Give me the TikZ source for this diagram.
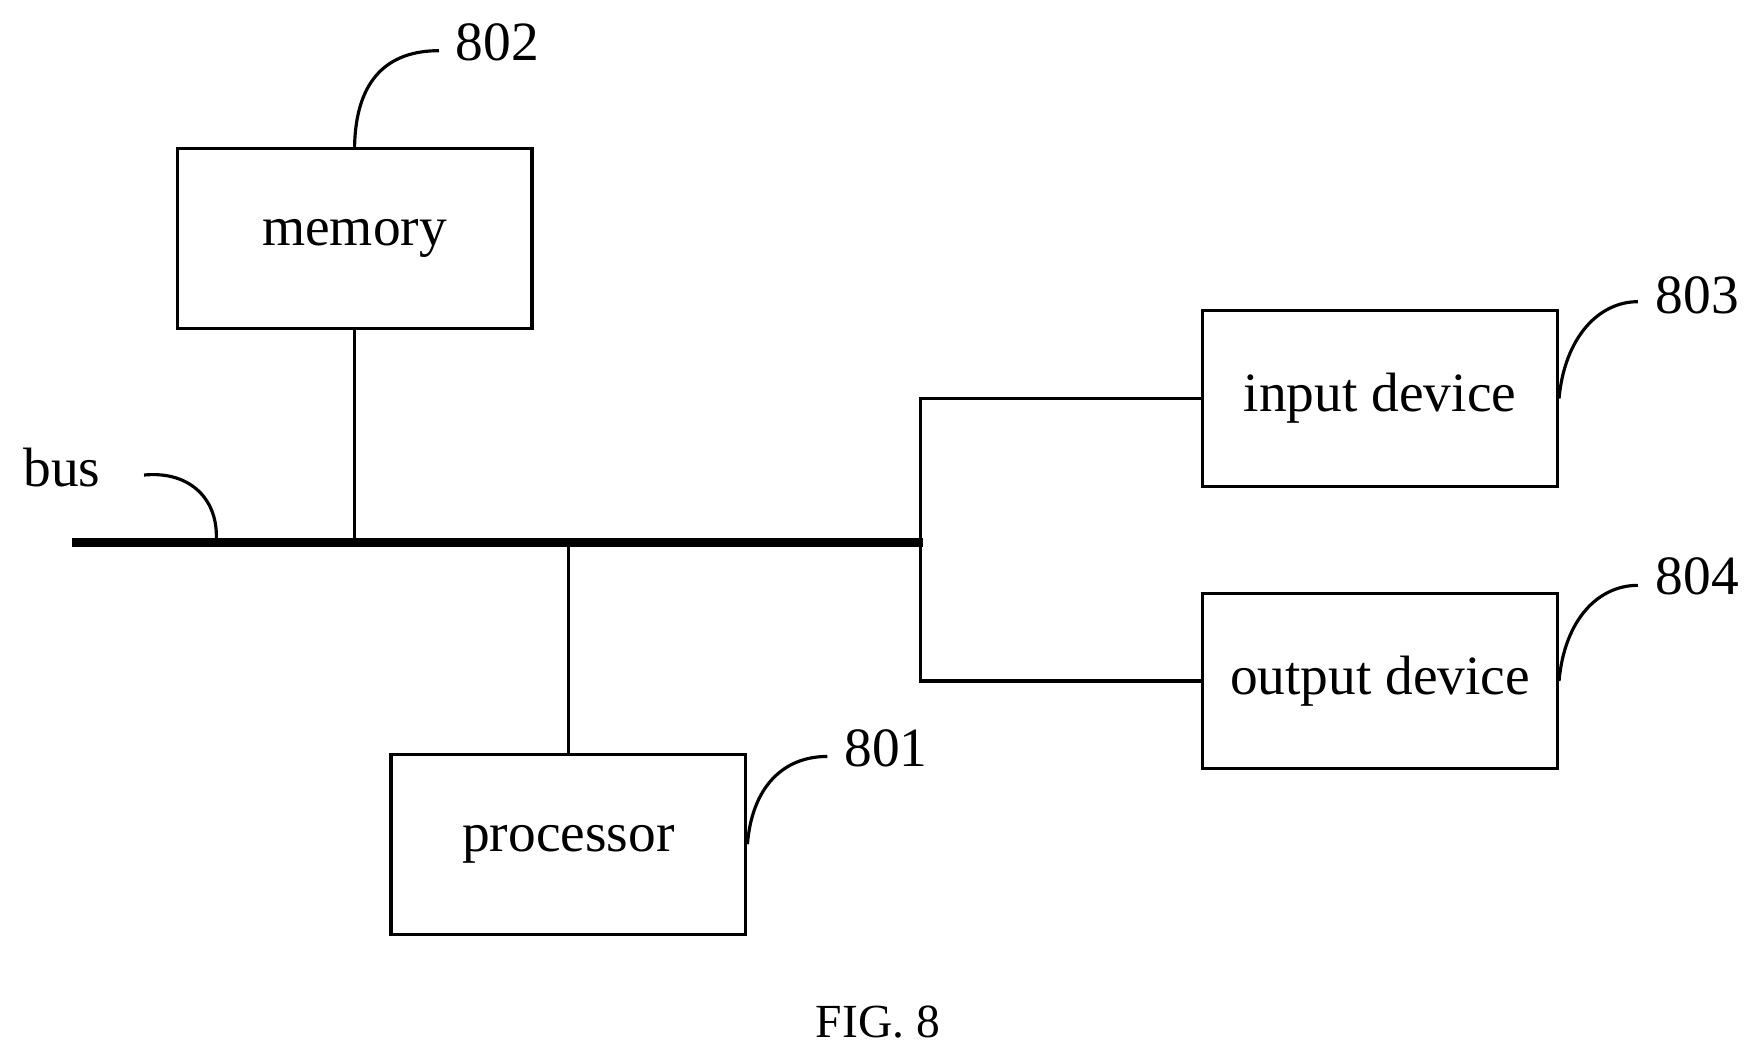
\documentclass[tikz,border=0pt]{standalone}
\usepackage{fontspec}
\setmainfont{Liberation Serif}
\begin{document}
\begin{tikzpicture}[x=0.01cm,y=-0.01cm,
  block/.style={rectangle, draw, thick, minimum width=3.15cm, minimum height=1.6cm, font=\fontsize{14}{16}\selectfont},
  lbl/.style={font=\fontsize{14}{16}\selectfont}]
  \useasboundingbox (0,0) rectangle (1560,936);

  % boxes
  \node[block] (memory) at (315,212) {memory};
  \node[block] (processor) at (505,750) {processor};
  \node[block, minimum height=1.56cm] (input) at (1226,354) {input device};
  \node[block, minimum height=1.56cm] (output) at (1226,605) {output device};

  % bus
  \coordinate (busL) at (64,482);
  \coordinate (busR) at (820,482);
  \draw[line width=2.2pt] (busL) -- (busR);
  \draw[thick] (memory.south) -- (memory.south |- busL);
  \draw[thick] (processor.north) -- (processor.north |- busL);
  \coordinate (brIn) at (818,354);
  \coordinate (brOut) at (818,605);
  \draw[thick] (input.west) -- (brIn) -- (brOut) -- (output.west);

  % reference labels
  \node[lbl] (l802) at (442,38) {802};
  \node[lbl] (l803) at (1508,262) {803};
  \node[lbl] (l804) at (1508,512) {804};
  \node[lbl] (l801) at (787,665) {801};
  \node[lbl] (lbus) at (55,415) {bus};
  \draw[thick] (memory.north) .. controls (316,70) and (345,45) .. (390,45);
  \draw[thick] (input.east) .. controls (1390,300) and (1420,268) .. (1455,268);
  \draw[thick] (output.east) .. controls (1390,550) and (1420,520) .. (1455,520);
  \draw[thick] (processor.east) .. controls (668,700) and (695,672) .. (735,672);
  \draw[thick] (128,422) .. controls (170,418) and (195,445) .. (192,482);

  \node[font=\fontsize{12}{14}\selectfont] (fig) at (780,908) {FIG. 8};
\end{tikzpicture}
\end{document}
